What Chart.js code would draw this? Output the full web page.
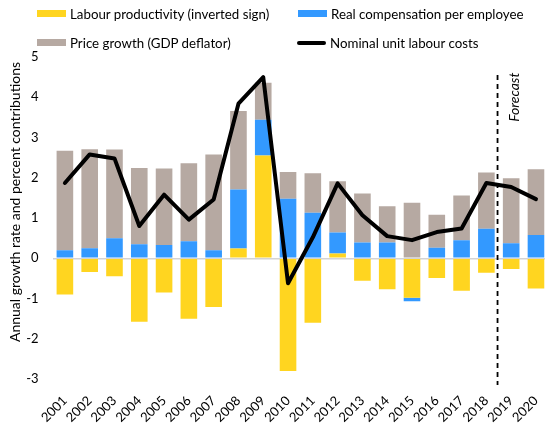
<!DOCTYPE html>
<html>
<head>
<meta charset="utf-8">
<script src="https://cdn.jsdelivr.net/npm/chart.js@4/dist/chart.umd.min.js"></script>
<style>
    html, body {
        margin: 0;
        padding: 0;
        width: 545px;
        height: 425px;
        overflow: hidden;
        background: #ffffff;
        font-family: Lato, 'Liberation Sans', sans-serif;
    }
    .wrap {
        position: relative;
        width: 545px;
        height: 425px;
        overflow: hidden;
    }
    #ulcChart {
        position: absolute;
        left: 0;
        top: 0;
    }
    .legend-item {
        position: absolute;
        font-size: 13.3px;
        color: #000;
        white-space: nowrap;
        line-height: 16px;
    }
    .legend-item .swatch {
        display: inline-block;
        width: 29px;
        height: 7px;
        margin-right: 4px;
        vertical-align: 2px;
    }
    .legend-item .swatch.line {
        height: 4px;
        border-radius: 2px;
        vertical-align: 3px;
    }
</style>
</head>
<body>
<div class="wrap">
    <canvas id="ulcChart" width="553" height="425"></canvas>
    <div class="legend-item" style="left:37px; top:6px;"><span class="swatch" style="background:#ffd520"></span>Labour productivity (inverted sign)</div>
    <div class="legend-item" style="left:298px; top:6px;"><span class="swatch" style="background:#3399ff"></span>Real compensation per employee</div>
    <div class="legend-item" style="left:37px; top:35px;"><span class="swatch" style="background:#b6a9a2"></span>Price growth (GDP deflator)</div>
    <div class="legend-item" style="left:297px; top:35px;"><span class="swatch line" style="background:#000"></span>Nominal unit labour costs</div>
</div>

<script>
// Unit labour cost decomposition, annual %

const years = ['2001', '2002', '2003', '2004', '2005', '2006', '2007', '2008', '2009', '2010',
               '2011', '2012', '2013', '2014', '2015', '2016', '2017', '2018', '2019', '2020'];

const productivity = [-0.90, -0.34, -0.45, -1.58, -0.85, -1.50, -1.21, 0.24, 2.55, -2.80,
                      -1.60, 0.12, -0.56, -0.77, -0.98, -0.49, -0.81, -0.36, -0.27, -0.75];

const compensation = [0.20, 0.25, 0.50, 0.35, 0.33, 0.42, 0.20, 1.47, 0.89, 1.48,
                      1.13, 0.52, 0.39, 0.39, -0.09, 0.26, 0.45, 0.73, 0.37, 0.58];

const priceGrowth = [2.47, 2.46, 2.20, 1.89, 1.90, 1.94, 2.38, 1.95, 0.92, 0.66,
                     0.98, 1.27, 1.22, 0.90, 1.38, 0.82, 1.11, 1.40, 1.62, 1.63];

const nominalUlc = [1.87, 2.58, 2.48, 0.80, 1.58, 0.96, 1.46, 3.84, 4.50, -0.62,
                    0.52, 1.86, 1.07, 0.55, 0.45, 0.65, 0.74, 1.87, 1.77, 1.47];

const yTicks = [5, 4, 3, 2, 1, 0, -1, -2, -3];

const forecastStart = 17.45; // between 2018 and 2019

// Draws the y title, the forecast divider and its label
const extrasPlugin = {
    id: 'extras',
    afterDraw(chart) {
        const ctx = chart.ctx;
        const x = chart.scales.x;
        const y = chart.scales.y;

        // forecast divider
        const step = x.getPixelForValue(1) - x.getPixelForValue(0);
        const fx = x.getPixelForValue(0) + forecastStart * step;
        ctx.save();
        ctx.strokeStyle = '#000';
        ctx.lineWidth = 1.8;
        ctx.setLineDash([5, 4]);
        ctx.beginPath();
        ctx.moveTo(fx, y.getPixelForValue(4.55));
        ctx.lineTo(fx, y.getPixelForValue(-3.15));
        ctx.stroke();
        ctx.restore();

        // forecast label
        ctx.save();
        ctx.translate(fx + 17, y.getPixelForValue(4.0));
        ctx.rotate(-Math.PI / 2);
        ctx.font = 'italic 14px Lato, sans-serif';
        ctx.fillStyle = '#000';
        ctx.textAlign = 'center';
        ctx.textBaseline = 'middle';
        ctx.fillText('Forecast', 0, 0);
        ctx.restore();

        // y axis title
        ctx.save();
        ctx.translate(15, 202);
        ctx.rotate(-Math.PI / 2);
        ctx.font = '14px Lato, sans-serif';
        ctx.fillStyle = '#000';
        ctx.textAlign = 'center';
        ctx.textBaseline = 'middle';
        ctx.fillText('Annual growth rate and percent contributions', 0, 0);
        ctx.restore();
    }
};

function createChart() {
    const canvas = document.getElementById('ulcChart');
    const ctx = canvas.getContext('2d');

    return new Chart(ctx, {
        type: 'bar',
        data: {
            labels: years,
            datasets: [
                {
                    label: 'Labour productivity (inverted sign)',
                    data: productivity,
                    backgroundColor: '#ffd520',
                    stack: 'bars',
                    order: 1
                },
                {
                    label: 'Real compensation per employee',
                    data: compensation,
                    backgroundColor: '#3399ff',
                    stack: 'bars',
                    order: 1
                },
                {
                    label: 'Price growth (GDP deflator)',
                    data: priceGrowth,
                    backgroundColor: '#b6a9a2',
                    stack: 'bars',
                    order: 1
                },
                {
                    type: 'line',
                    label: 'Nominal unit labour costs',
                    data: nominalUlc,
                    borderColor: '#000',
                    borderWidth: 4,
                    pointRadius: 0,
                    tension: 0,
                    borderJoinStyle: 'round',
                    borderCapStyle: 'round',
                    stack: 'line',
                    order: 0
                }
            ]
        },
        options: {
            responsive: false,
            animation: false,
            datasets: {
                bar: {
                    categoryPercentage: 1,
                    barPercentage: 0.67
                }
            },
            layout: {
                padding: { top: 57, right: 0, bottom: 0, left: 0 }
            },
            scales: {
                x: {
                    stacked: true,
                    grid: { display: false },
                    border: { display: false },
                    ticks: {
                        autoSkip: false,
                        minRotation: 45,
                        maxRotation: 45,
                        padding: 6,
                        color: '#000',
                        font: { family: 'Lato', size: 13 }
                    },
                    afterFit(scale) {
                        scale.height = 46;
                    }
                },
                y: {
                    stacked: true,
                    min: -3,
                    max: 5,
                    afterBuildTicks(scale) {
                        scale.ticks = yTicks.map(v => ({ value: v }));
                    },
                    grid: {
                        drawTicks: false,
                        lineWidth: 1.5,
                        color: (c) => (c.tick && c.tick.value === 0 ? '#d4d4d4' : 'rgba(0,0,0,0)')
                    },
                    border: { display: false },
                    ticks: {
                        padding: 14,
                        color: '#000',
                        font: { family: 'Lato', size: 13 }
                    },
                    afterFit(scale) {
                        scale.width = 52.5;
                    }
                }
            },
            plugins: {
                legend: { display: false },
                tooltip: { enabled: false }
            }
        },
        plugins: [extrasPlugin]
    });
}

document.addEventListener('DOMContentLoaded', () => {
    window.ulcChart = createChart();
});
</script>
</body>
</html>
